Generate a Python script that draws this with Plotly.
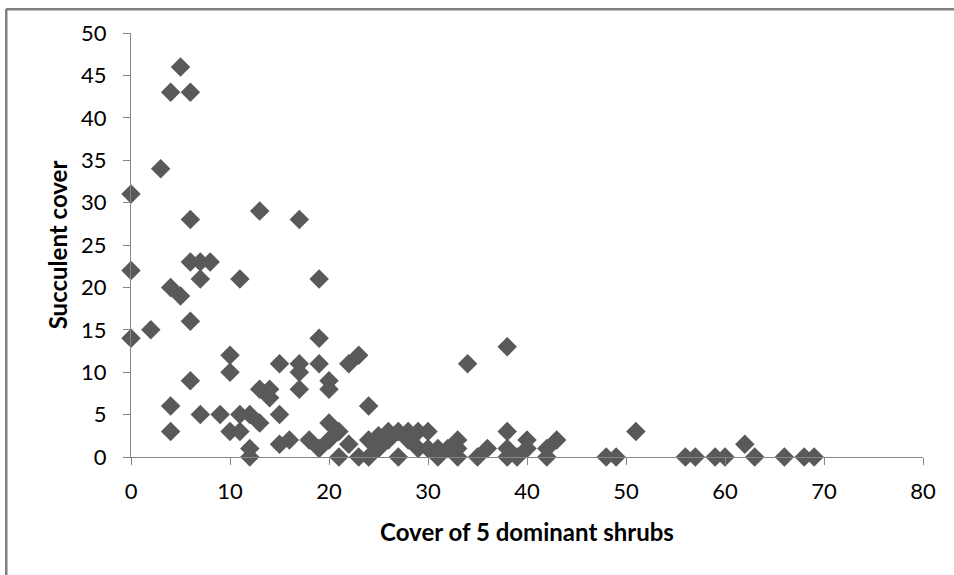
import plotly.graph_objects as go

shrub_cover = [0, 0, 0, 2, 3, 4, 5, 6, 4, 5, 6, 6, 7, 8, 7, 6, 6, 4, 4, 7,
               9, 10, 10, 10, 11, 11, 11, 12, 12, 12, 13, 13, 14, 14, 13, 15, 15, 15, 16, 17,
               17, 17, 17, 18, 19, 19, 19, 19, 20, 20, 20, 20, 21, 21, 22, 23, 22, 23, 24, 24,
               24, 25, 25, 26, 27, 27, 28, 29, 29, 30, 30, 31, 31, 33, 33, 33, 34, 35, 36, 38,
               38, 38, 38, 39, 40, 40, 42, 42, 43, 48, 49, 51, 56, 57, 59, 60, 62, 63, 66, 68,
               69, 26, 28, 32]
succulent_cover = [31, 22, 14, 15, 34, 43, 46, 43, 20, 19, 28, 23, 23, 23, 21, 16, 9, 6, 3, 5,
                   5, 12, 10, 3, 5, 3, 21, 5, 1, 0, 4, 8, 8, 7, 29, 11, 5, 1.5, 2, 28,
                   11, 10, 8, 2, 21, 14, 11, 1, 9, 8, 4, 2, 3, 0, 11, 12, 1.5, 0, 6, 2,
                   0, 1, 2.5, 3, 3, 0, 3, 3, 1, 3, 1, 0, 1, 2, 0, 1, 11, 0, 1, 13,
                   3, 1, 0, 0, 2, 1, 0, 1, 2, 0, 0, 3, 0, 0, 0, 0, 1.5, 0, 0, 0,
                   0, 2, 2, 1]

x_ticks = [0, 10, 20, 30, 40, 50, 60, 70, 80]
y_ticks = [0, 5, 10, 15, 20, 25, 30, 35, 40, 45, 50]
x_title = "Cover of 5 dominant shrubs"
y_title = "Succulent cover"

TICK_FONT = "Lato, Open Sans, sans-serif"
TITLE_FONT = "Lato, Open Sans, sans-serif"

fig = go.Figure()
fig.add_trace(go.Scatter(
    x=shrub_cover, y=succulent_cover, mode="markers",
    marker=dict(symbol="diamond", size=15, color="#595959", line=dict(width=0)),
    showlegend=False, cliponaxis=False,
))

axis_common = dict(
    showgrid=False, zeroline=False, showline=True, linecolor="#868686", linewidth=1,
    ticks="outside", ticklen=7, tickcolor="#868686", automargin=False,
    tickfont=dict(family=TICK_FONT, size=22, color="#000000"),
)

# chart-area border (top and left edges visible in the crop)
bx0 = (6 - 131) / 792
bx1 = (954 - 131) / 792
by_top = (457 - 9) / 424
by_bot = (457 - 575) / 424
border = dict(color="#808080", width=2)

fig.update_layout(
    width=954, height=575,
    margin=dict(l=131, r=31, t=33, b=118),
    paper_bgcolor="white", plot_bgcolor="white",
    xaxis=dict(range=[0, 80], tickvals=x_ticks, ticklabelstandoff=8, **axis_common,
               title=dict(text="<b>" + x_title + "</b>",
                          font=dict(family=TITLE_FONT, size=24, color="#000000"),
                          standoff=20)),
    yaxis=dict(range=[0, 50], tickvals=y_ticks, ticklabelstandoff=12, **axis_common,
               title=dict(text="<b>" + y_title + "</b>",
                          font=dict(family=TITLE_FONT, size=24, color="#000000"),
                          standoff=6)),
    shapes=[
        dict(type="line", xref="paper", yref="paper", x0=bx0, x1=bx1, y0=by_top, y1=by_top,
             line=border, layer="above"),
        dict(type="line", xref="paper", yref="paper", x0=bx0, x1=bx0, y0=by_top, y1=by_bot,
             line=border, layer="above"),
    ],
    annotations=[
        dict(xref="paper", yref="paper", x=bx0, y=by_top, xanchor="left", yanchor="top",
             text=" ", showarrow=False, width=1000, height=640, align="left",
             bordercolor="#808080", borderwidth=1.5, borderpad=0,
             bgcolor="rgba(0,0,0,0)"),
    ],
)

fig.write_html("out.html", config={"displayModeBar": False},
               post_script="document.body.style.margin='0px';document.body.style.overflow='hidden';")
